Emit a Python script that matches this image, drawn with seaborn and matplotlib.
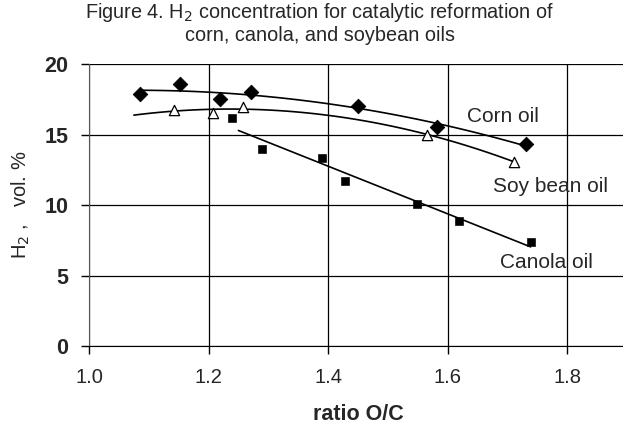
import numpy as np
import pandas as pd
import matplotlib
matplotlib.use("Agg")
import matplotlib.pyplot as plt
import seaborn as sns

# --- data ---
corn_x = [1.085, 1.153, 1.219, 1.271, 1.450, 1.583, 1.731]
corn_y = [17.9, 18.6, 17.5, 18.0, 17.0, 15.5, 14.3]

soy_x = [1.142, 1.207, 1.258, 1.566, 1.712]
soy_y = [16.75, 16.55, 16.95, 15.0, 13.05]

canola_x = [1.239, 1.290, 1.390, 1.429, 1.549, 1.619, 1.739]
canola_y = [16.2, 14.0, 13.3, 11.7, 10.1, 8.9, 7.4]

x_ticks = [1.0, 1.2, 1.4, 1.6, 1.8]
y_ticks = [0, 5, 10, 15, 20]

sns.set_style("white")
plt.rcParams['font.family'] = ['Liberation Sans', 'DejaVu Sans']

fig = plt.figure(figsize=(6.23, 4.36), dpi=100)
ax = fig.add_axes([0.1429, 0.2064, 0.8632, 0.6468])

# trendlines (2nd order for corn / soy, linear for canola, like excel)
def trend(xs, ys, deg, x0, x1):
    c = np.polyfit(xs, ys, deg)
    xx = np.linspace(x0, x1, 60)
    return pd.DataFrame({"x": xx, "y": np.polyval(c, xx)})

for df in [trend(corn_x, corn_y, 2, 1.085, 1.731),
           trend(soy_x, soy_y, 2, 1.075, 1.712),
           trend(canola_x, canola_y, 1, 1.25, 1.739)]:
    sns.lineplot(data=df, x="x", y="y", color="black", lw=1.2, ax=ax)

sns.scatterplot(x=corn_x, y=corn_y, marker="D", s=55, color="black",
                edgecolor="black", ax=ax, zorder=5)
sns.scatterplot(x=soy_x, y=soy_y, marker="^", s=55, facecolor="white",
                edgecolor="black", linewidth=0.9, ax=ax, zorder=5)
sns.scatterplot(x=canola_x, y=canola_y, marker="s", s=32, color="black",
                edgecolor="black", ax=ax, zorder=5)

ax.set_xlim(1.0, 1.9)
ax.set_ylim(0, 20)
ax.set_xticks(x_ticks)
ax.set_yticks(y_ticks)
ax.set_xticklabels([f"{t:.1f}" for t in x_ticks], fontsize=14.5)
ax.set_yticklabels([str(t) for t in y_ticks], fontsize=15.5, fontweight="bold")
ax.grid(True, color="black", lw=0.9)
ax.tick_params(axis="both", direction="out", length=6, width=1, color="black",
               bottom=True, left=True)
ax.tick_params(axis="x", pad=10)
ax.tick_params(axis="y", pad=9)

for side in ["top", "right"]:
    ax.spines[side].set_visible(False)
ax.spines["left"].set_color("#555555")
ax.spines["bottom"].set_color("black")

ax.set_xlabel("ratio O/C", fontsize=15.5, fontweight="bold", labelpad=12)
ax.set_ylabel("H$_2$ ,   vol. %", fontsize=14.5, labelpad=9)

ax.text(1.632, 16.26, "Corn oil", fontsize=15, va="center")
ax.text(1.676, 11.3, "Soy bean oil", fontsize=15, va="center")
ax.text(1.688, 5.94, "Canola oil", fontsize=15, va="center")

fig.text(0.513, 0.972, "Figure 4. H$_2$ concentration for catalytic reformation of",
         ha="center", va="center", fontsize=14.3)
fig.text(0.513, 0.918, "corn, canola, and soybean oils",
         ha="center", va="center", fontsize=14.3)

fig.savefig("out.png", dpi=100)
